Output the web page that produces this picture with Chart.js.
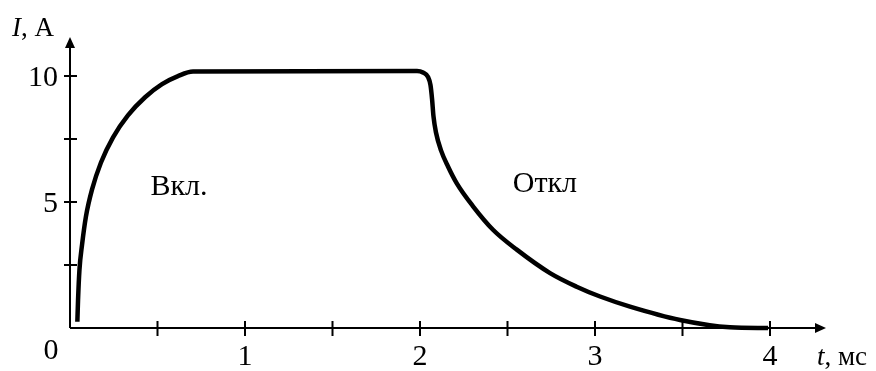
<!DOCTYPE html>
<html>
<head>
<meta charset="utf-8">
<script src="https://cdn.jsdelivr.net/npm/chart.js@4/dist/chart.umd.min.js"></script>
<style>
  html, body { margin: 0; padding: 0; background: #fff; }
  #wrap { width: 876px; height: 371px; }
</style>
</head>
<body>
<div id="wrap"><canvas id="currentChart" width="876" height="371"></canvas></div>
<script>
// ток катушки при включении и отключении, t в мс, I в амперах
const timeMs = [0.042, 0.046, 0.054, 0.069, 0.091, 0.126, 0.177, 0.246, 0.331, 0.429,
                0.526, 0.617, 0.703,
                1.983, 2.017, 2.046, 2.06, 2.069, 2.077, 2.091, 2.12, 2.16, 2.211,
                2.303, 2.417, 2.553, 2.743, 2.895, 3.029, 3.2, 3.486, 3.771, 3.989];
const currentA = [0.25, 1.12, 2.31, 3.31, 4.42, 5.50, 6.57, 7.57, 8.44, 9.16,
                  9.68, 10.0, 10.18,
                  10.2, 10.14, 9.96, 9.64, 9.08, 8.40, 7.77, 7.05, 6.41, 5.73,
                  4.83, 3.90, 3.11, 2.18, 1.64, 1.25, 0.85, 0.32, 0.03, 0.0];

// деления и подписи осей
const tTicks = [0.5, 1, 1.5, 2, 2.5, 3, 3.5, 4];
const tLabels = ['1', '2', '3', '4'];
const tLabelValues = [1, 2, 3, 4];
const iTicks = [2.5, 5, 7.5, 10];
const iLabels = ['5', '10'];
const iLabelValues = [5, 10];

// надписи участков кривой
const notes = [
    { text: 'Вкл.', t: 0.46, i: 5.58 },
    { text: 'Откл', t: 2.53, i: 5.7 }
];

const serif = '"Liberation Serif", "DejaVu Serif", serif';

const axesPlugin = {
    id: 'arrowAxes',
    beforeDatasetsDraw(chart) {
        const ctx = chart.ctx;
        const xs = chart.scales.x, ys = chart.scales.y;
        const x0 = xs.getPixelForValue(0);
        const y0 = ys.getPixelForValue(0);
        const xEnd = xs.right;
        const yEnd = ys.top;

        ctx.save();
        ctx.strokeStyle = '#000';
        ctx.fillStyle = '#000';
        ctx.lineWidth = 2;

        // оси
        ctx.beginPath();
        ctx.moveTo(x0, y0);
        ctx.lineTo(xEnd - 8, y0);
        ctx.moveTo(x0, y0);
        ctx.lineTo(x0, yEnd + 8);
        ctx.stroke();

        // стрелки
        ctx.beginPath();
        ctx.moveTo(xEnd, y0);
        ctx.lineTo(xEnd - 11, y0 - 5);
        ctx.lineTo(xEnd - 11, y0 + 5);
        ctx.closePath();
        ctx.fill();
        ctx.beginPath();
        ctx.moveTo(x0, yEnd);
        ctx.lineTo(x0 - 5, yEnd + 11);
        ctx.lineTo(x0 + 5, yEnd + 11);
        ctx.closePath();
        ctx.fill();

        // засечки
        ctx.beginPath();
        tTicks.forEach(v => {
            const px = xs.getPixelForValue(v);
            ctx.moveTo(px, y0 - 7);
            ctx.lineTo(px, y0 + 8);
        });
        iTicks.forEach(v => {
            const py = ys.getPixelForValue(v);
            ctx.moveTo(x0 - 6, py);
            ctx.lineTo(x0 + 7, py);
        });
        ctx.stroke();
        ctx.restore();
    },
    afterDraw(chart) {
        const ctx = chart.ctx;
        const xs = chart.scales.x, ys = chart.scales.y;
        const x0 = xs.getPixelForValue(0);
        const y0 = ys.getPixelForValue(0);

        ctx.save();
        ctx.fillStyle = '#000';
        ctx.font = '30px ' + serif;

        ctx.textAlign = 'center';
        ctx.textBaseline = 'alphabetic';
        tLabelValues.forEach((v, k) => {
            ctx.fillText(tLabels[k], xs.getPixelForValue(v), y0 + 37);
        });
        ctx.fillText('0', x0 - 19, y0 + 31);

        ctx.textAlign = 'right';
        ctx.textBaseline = 'middle';
        iLabelValues.forEach((v, k) => {
            ctx.fillText(iLabels[k], x0 - 12, ys.getPixelForValue(v) + 2);
        });

        ctx.textAlign = 'left';
        notes.forEach(n => {
            ctx.fillText(n.text, xs.getPixelForValue(n.t), ys.getPixelForValue(n.i));
        });

        // названия осей
        ctx.textBaseline = 'alphabetic';
        ctx.font = 'italic 27px ' + serif;
        ctx.fillText('I', 12, 36);
        let w = ctx.measureText('I').width;
        ctx.font = '27px ' + serif;
        ctx.fillText(', A', 12 + w, 36);

        const tx = xs.right - 9;
        ctx.font = 'italic 27px ' + serif;
        ctx.fillText('t', tx, y0 + 37);
        w = ctx.measureText('t').width;
        ctx.font = '27px ' + serif;
        ctx.fillText(', мс', tx + w, y0 + 37);
        ctx.restore();
    }
};

const ctx = document.getElementById('currentChart').getContext('2d');

new Chart(ctx, {
    type: 'line',
    data: {
        datasets: [{
            data: timeMs.map((t, k) => ({ x: t, y: currentA[k] })),
            borderColor: '#000',
            borderWidth: 4.5,
            pointRadius: 0,
            fill: false,
            cubicInterpolationMode: 'monotone',
            clip: false
        }]
    },
    options: {
        responsive: false,
        animation: false,
        layout: {
            padding: { left: 70, right: 50, top: 37, bottom: 43 }
        },
        plugins: {
            legend: { display: false },
            tooltip: { enabled: false }
        },
        scales: {
            x: {
                type: 'linear',
                min: 0,
                max: 4.32,
                display: false
            },
            y: {
                type: 'linear',
                min: 0,
                max: 11.55,
                display: false
            }
        }
    },
    plugins: [axesPlugin]
});
</script>
</body>
</html>
